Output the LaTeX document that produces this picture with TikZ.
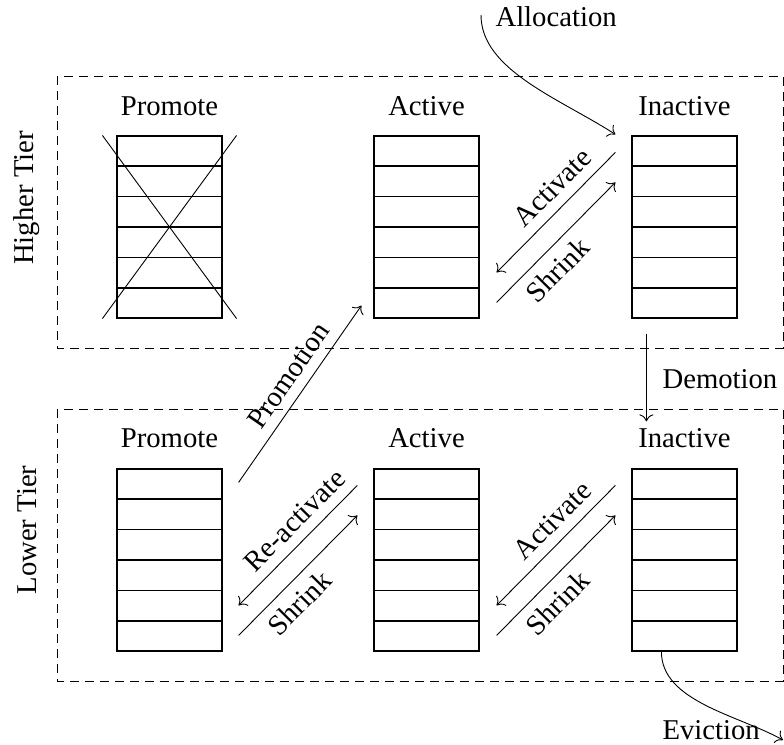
\documentclass[tikz,border=0pt]{standalone}
\usepackage{fontspec}
\setmainfont{Liberation Serif}
\usetikzlibrary{calc,arrows.meta}

\tikzset{
  every node/.style={font=\fontsize{28.7}{34}\selectfont},
  qbox/.style={draw, rectangle, minimum width=105pt, minimum height=182pt,
               inner sep=0pt, line width=1.2pt},
  cell/.style={line width=1.2pt},
  cross/.style={line width=0.9pt},
  tierframe/.style={dash pattern=on 9pt off 6pt, line width=0.8pt},
  flow/.style={line width=0.9pt, -{To[length=7pt,width=14pt]}},
  backflow/.style={line width=0.9pt, {To[length=7pt,width=14pt]}-},
  qlabel/.style={anchor=base},
  tierlabel/.style={rotate=90, anchor=center},
  lab/.style={sloped, inner sep=10pt}
}

% a queue: framed box split into six slots
\newcommand\queuebox[2]{%
  \node[qbox] (#1) at #2 {};
  \foreach \k in {1,...,5}
    \draw[cell] ($(#1.north west)!\k/6!(#1.south west)$) --
                ($(#1.north east)!\k/6!(#1.south east)$);
}

\begin{document}
\begin{tikzpicture}[x=1pt,y=-1pt]
\useasboundingbox (0,0) rectangle (784,744);

% tier frames
\draw[tierframe] (57,76) rectangle (783,348);
\draw[tierframe] (57,409) rectangle (783,681);
\node[tierlabel] (htier) at (27,198) {Higher Tier};
\node[tierlabel] (ltier) at (27,530) {Lower Tier};

% higher tier queues
\queuebox{hp}{(169.5,227)}
\queuebox{ha}{(426.5,227)}
\queuebox{hi}{(684.5,227)}
% lower tier queues
\queuebox{lp}{(169.5,560)}
\queuebox{la}{(426.5,560)}
\queuebox{li}{(684.5,560)}

% queue titles
\node[qlabel] (hpt) at ($(hp.north)+(0,-20)$) {Promote};
\node[qlabel] (hat) at ($(ha.north)+(0,-20)$) {Active};
\node[qlabel] (hit) at ($(hi.north)+(0,-20)$) {Inactive};
\node[qlabel] (lpt) at ($(lp.north)+(0,-21)$) {Promote};
\node[qlabel] (lat) at ($(la.north)+(0,-21)$) {Active};
\node[qlabel] (lit) at ($(li.north)+(0,-21)$) {Inactive};

% unused promote queue in the higher tier
\draw[cross] ($(hp.north west)+(-14,0)$) -- ($(hp.south east)+(14,0)$);
\draw[cross] ($(hp.south west)+(-14,0)$) -- ($(hp.north east)+(14,0)$);

% higher tier: active <-> inactive
\draw[backflow] ($(ha.north east)+(17,137)$) -- ($(hi.north west)+(-16,17)$)
  node[lab, above, pos=0.59] (hact) {Activate};
\draw[flow] ($(ha.north east)+(17,167)$) -- ($(hi.north west)+(-16,47)$)
  node[lab, below, pos=0.39] (hshr) {Shrink};

% lower tier: promote <-> active
\draw[backflow] ($(lp.north east)+(16,137)$) -- ($(la.north west)+(-16,17)$)
  node[lab, above, pos=0.59] (lreact) {Re-activate};
\draw[flow] ($(lp.north east)+(16,167)$) -- ($(la.north west)+(-16,47)$)
  node[lab, below, pos=0.39] (lshr1) {Shrink};

% lower tier: active <-> inactive
\draw[backflow] ($(la.north east)+(17,137)$) -- ($(li.north west)+(-16,17)$)
  node[lab, above, pos=0.59] (lact) {Activate};
\draw[flow] ($(la.north east)+(17,167)$) -- ($(li.north west)+(-16,47)$)
  node[lab, below, pos=0.39] (lshr2) {Shrink};

% promotion across tiers
\draw[flow] ($(lp.north east)+(16,14)$) -- ($(ha.south west)+(-12,-13)$)
  node[lab, above, pos=0.54] (prom) {Promotion};

% demotion across tiers
\draw[flow] ($(hi.south west)+(15,15)$) -- ($(li.north west)+(15,-47)$);
\node[anchor=base west] (dem) at (659,388) {Demotion};

% allocation into the higher inactive queue
\node[anchor=base west] (alloc) at (492,26) {Allocation};
\draw[flow] ($(alloc.base west)+(-11,-11)$) .. controls +(0,55) and +(-56,-36) ..
  ($(hi.north west)+(-16,-1)$);

% eviction out of the lower inactive queue
\node[anchor=base west] (evict) at (659,739) {Eviction};
\coordinate (evend) at (783,740);
\draw[flow] ($(li.south west)+(30,0)$) .. controls +(0,50) and +(-45,-25) .. (evend);
\end{tikzpicture}
\end{document}
